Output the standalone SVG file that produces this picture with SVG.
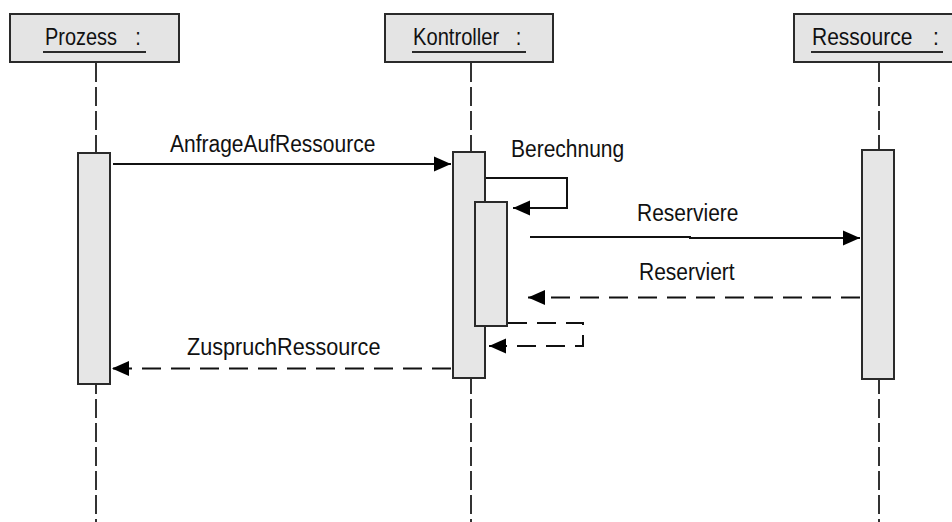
<svg xmlns="http://www.w3.org/2000/svg" width="952" height="522" viewBox="0 0 952 522">
  <style>
    .head { fill: #e4e4e4; stroke: #2a2a2a; stroke-width: 2; }
    .act { fill: #e6e6e6; stroke: #2a2a2a; stroke-width: 2; }
    .life { stroke: #333; stroke-width: 2; stroke-dasharray: 19 5; fill: none; }
    .uline { stroke: #2a2a2a; stroke-width: 2; }
    .msg { stroke: #111; stroke-width: 2; fill: none; marker-end: url(#arrow); }
    .ret { stroke: #111; stroke-width: 2; fill: none; stroke-dasharray: 19 10; marker-end: url(#arrow); }
    text { font-family: "Liberation Sans", Arial, sans-serif; font-size: 21px; fill: #111; }
  </style>
  <defs>
    <marker id="arrow" markerUnits="userSpaceOnUse" markerWidth="18" markerHeight="16" refX="17" refY="8" orient="auto">
      <path d="M0,0.5 L17,8 L0,15.5 Z" fill="#000" stroke="none"/>
    </marker>
  </defs>

  <!-- Prozess lifeline -->
  <g id="prozess">
    <line class="life" x1="96" y1="63" x2="96" y2="522"/>
    <rect class="head" x="10" y="14" width="169" height="48"/>
    <text transform="translate(45,45) scale(0.95,1.1)">Prozess<tspan x="95">:</tspan></text>
    <line class="uline" x1="43" y1="52" x2="146" y2="52"/>
    <rect class="act" x="78" y="153" width="32" height="231"/>
  </g>

  <!-- Kontroller lifeline -->
  <g id="kontroller">
    <line class="life" x1="471" y1="63" x2="471" y2="522"/>
    <rect class="head" x="385" y="14" width="168" height="48"/>
    <text transform="translate(413,45) scale(0.96,1.1)">Kontroller<tspan x="107">:</tspan></text>
    <line class="uline" x1="412" y1="52" x2="526" y2="52"/>
    <rect class="act" x="453" y="152" width="32" height="226"/>
    <rect class="act" x="475" y="202" width="32" height="124"/>
  </g>

  <!-- Ressource lifeline -->
  <g id="ressource">
    <line class="life" x1="879" y1="63" x2="879" y2="522"/>
    <rect class="head" x="794" y="14" width="169" height="48"/>
    <text transform="translate(812,45) scale(1,1.1)">Ressource<tspan x="121">:</tspan></text>
    <line class="uline" x1="811" y1="52" x2="943" y2="52"/>
    <rect class="act" x="862" y="150" width="32" height="229"/>
  </g>

  <!-- Messages -->
  <g id="connectors">
    <path class="msg" d="M113,164 H451"/>
    <text transform="translate(170,152) scale(1,1.1)">AnfrageAufRessource</text>

    <path class="msg" d="M486,178 H567 V208 H513"/>
    <text transform="translate(511,157) scale(1,1.1)">Berechnung</text>

    <path class="msg" d="M530,237 H690 V238 H860"/>
    <text transform="translate(637,221) scale(1,1.1)">Reserviere</text>

    <path class="ret" d="M860,297.5 H528"/>
    <text transform="translate(639,280) scale(1,1.1)">Reserviert</text>

    <path class="ret" d="M508,323 H583 V346 H489"/>

    <path class="ret" d="M451,368.5 H112"/>
    <text transform="translate(187,355) scale(1.03,1.1)">ZuspruchRessource</text>
  </g>
</svg>
